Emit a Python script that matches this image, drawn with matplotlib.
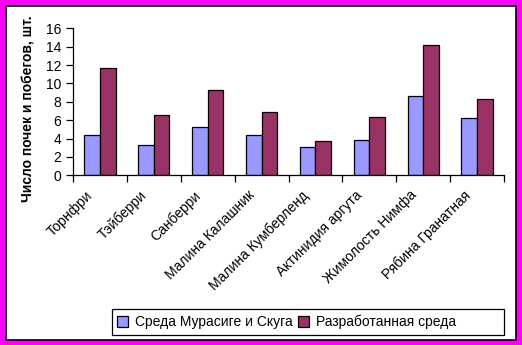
import matplotlib
matplotlib.use("Agg")
import matplotlib.pyplot as plt
import matplotlib.transforms as mtransforms
import numpy as np
from matplotlib.patches import Rectangle

plt.rcParams['font.family'] = ['Liberation Sans', 'DejaVu Sans']

categories = ["Торнфри", "Тэйберри", "Санберри", "Малина Калашник",
              "Малина Кумберленд", "Актинидия аргута", "Жимолость Нимфа",
              "Рябина Гранатная"]
ms_medium = [4.35, 3.26, 5.22, 4.35, 3.05, 3.81, 8.6, 6.2]
new_medium = [11.64, 6.53, 9.25, 6.86, 3.70, 6.31, 14.15, 8.27]
series_names = ["Среда Мурасиге и Скуга", "Разработанная среда"]
yticks = [0, 2, 4, 6, 8, 10, 12, 14, 16]

W, H = 522, 345
fig = plt.figure(figsize=(W / 100, H / 100), dpi=100)
fig.patch.set_facecolor('#FF00FF')

# white chart area with black frame inside the magenta border
fig.patches.append(Rectangle((6 / W, 5 / H), 510 / W, 334 / H,
                             transform=fig.transFigure, facecolor='white',
                             edgecolor='black', linewidth=1.2, zorder=-5))
# legend frame
fig.patches.append(Rectangle((112 / W, 1 - 335 / H), 392 / W, 26 / H,
                             transform=fig.transFigure, facecolor='white',
                             edgecolor='black', linewidth=0.9, zorder=-4))

ax = fig.add_axes([73 / W, (H - 175.3) / H, (504 - 73) / W, (175.3 - 28.3) / H])
ax.set_facecolor('none')

x = np.arange(len(categories))
bw = 0.29
b1 = ax.bar(x - bw / 2, ms_medium, bw, color='#9999FF', edgecolor='black',
            linewidth=0.9, label=series_names[0])
b2 = ax.bar(x + bw / 2, new_medium, bw, color='#993366', edgecolor='black',
            linewidth=0.9, label=series_names[1])

ax.set_xlim(-0.5, len(categories) - 0.5)
ax.set_ylim(0, 16)
ax.set_yticks(yticks)
ax.tick_params(axis='y', labelsize=10, length=5, width=0.9, direction='out', pad=3.5)

# ticks at category boundaries, labels at centers
ax.set_xticks(np.arange(len(categories) + 1) - 0.5)
ax.set_xticklabels([])
ax.tick_params(axis='x', length=5, width=0.9, direction='out')
ax.set_xticks(x, minor=True)
ax.set_xticklabels(categories, minor=True, rotation=45, ha='right',
                   rotation_mode='anchor', fontsize=10)
ax.tick_params(axis='x', which='minor', length=0, pad=9.2)
shift = mtransforms.ScaledTranslation(-14 / 100, 0, fig.dpi_scale_trans)
for lbl in ax.get_xticklabels(minor=True):
    lbl.set_transform(lbl.get_transform() + shift)

for s in ['top', 'right']:
    ax.spines[s].set_visible(False)
for s in ['left', 'bottom']:
    ax.spines[s].set_linewidth(0.9)

ax.set_ylabel("Число почек и побегов, шт.", fontsize=10, fontweight='bold')
ax.yaxis.set_label_coords(-0.088, 0.45)

leg = fig.legend(handles=[b1, b2], labels=series_names, loc='center left',
                 bbox_to_anchor=(117 / W, 1 - 322 / H), ncol=2,
                 fontsize=10, frameon=False, borderpad=0, borderaxespad=0,
                 handlelength=0.8, handleheight=0.8, handletextpad=0.5,
                 columnspacing=0.36)

fig.savefig("out.png", dpi=100, facecolor=fig.get_facecolor())
